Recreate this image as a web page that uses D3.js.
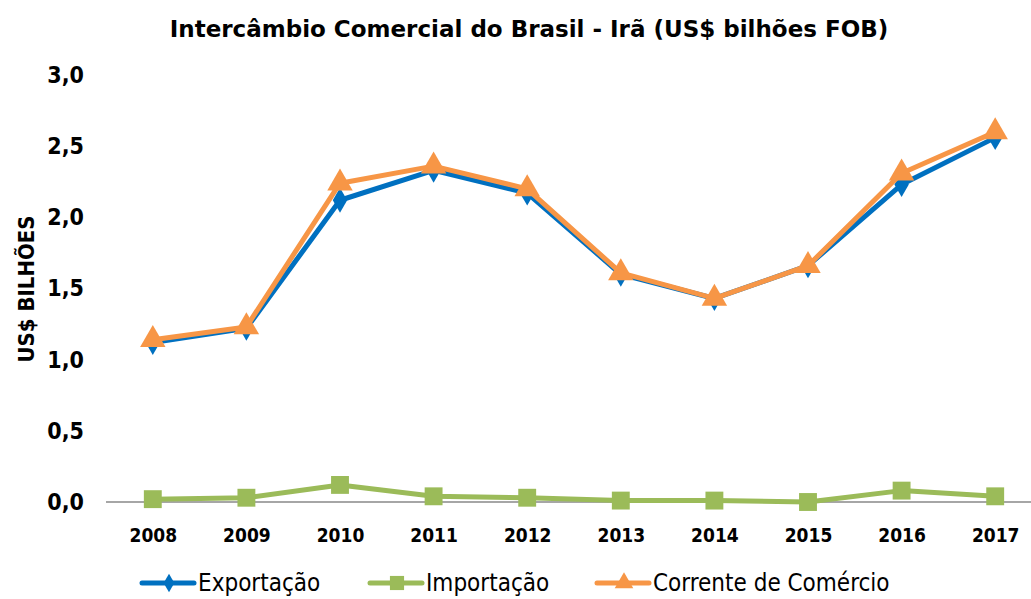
<!DOCTYPE html>
<html>
<head>
<meta charset="utf-8">
<script src="https://cdn.jsdelivr.net/npm/d3@7"></script>
<style>
  body { margin: 0; background: #fff; }
  text { font-family: "DejaVu Sans Condensed", "DejaVu Sans", sans-serif; }
</style>
</head>
<body>
<div id="chart"></div>
<script>
// data
const years = ['2008','2009','2010','2011','2012','2013','2014','2015','2016','2017'];
const exportacao = [1.12, 1.22, 2.12, 2.33, 2.17, 1.60, 1.43, 1.66, 2.23, 2.56];
const importacao = [0.02, 0.03, 0.12, 0.04, 0.03, 0.01, 0.01, 0.00, 0.08, 0.04];
const corrente = [1.14, 1.23, 2.24, 2.36, 2.20, 1.61, 1.43, 1.66, 2.31, 2.60];
const yTicks = [0, 0.5, 1, 1.5, 2, 2.5, 3];

const width = 1031;
const height = 599;

const svg = d3.select('#chart').append('svg')
  .attr('width', width)
  .attr('height', height);

// scales
const xScale = d3.scalePoint().domain(years).range([106, 1042]).padding(0.5);
const yScale = d3.scaleLinear().domain([0, 3]).range([502, 75]);

// title
svg.append('text')
  .attr('x', 529)
  .attr('y', 37)
  .attr('text-anchor', 'middle')
  .style('font-family', '"DejaVu Sans", sans-serif')
  .style('font-size', '23px')
  .style('font-weight', 'bold')
  .text('Intercâmbio Comercial do Brasil - Irã (US$ bilhões FOB)');

// y axis label
svg.append('text')
  .attr('transform', 'translate(34,289) rotate(-90)')
  .attr('text-anchor', 'middle')
  .style('font-size', '22px')
  .style('font-weight', 'bold')
  .text('US$ BILHÕES');

// y axis (labels only)
const yAxis = d3.axisLeft(yScale)
  .tickValues(yTicks)
  .tickFormat(d => d3.format('.1f')(d).replace('.', ','))
  .tickSize(0)
  .tickPadding(0);
const gy = svg.append('g')
  .attr('transform', 'translate(84,0)')
  .call(yAxis);
gy.select('.domain').remove();
gy.selectAll('text')
  .style('font-size', '23px')
  .style('font-weight', 'bold')
  .style('fill', '#000');

// x axis
const xAxis = d3.axisBottom(xScale).tickSize(0).tickPadding(27);
const gx = svg.append('g')
  .attr('transform', `translate(0,${yScale(0)})`)
  .call(xAxis);
gx.select('.domain').remove();
gx.append('line')
  .attr('x1', 106).attr('x2', 1031)
  .attr('stroke', '#888').attr('stroke-width', 1.3);
gx.selectAll('text')
  .style('font-size', '19px')
  .style('font-weight', 'bold')
  .style('fill', '#000');

const series = [
  {name: 'Exportação', values: exportacao, color: '#0070C0', symbol: d3.symbolDiamond, size: 180, legSize: 100},
  {name: 'Importação', values: importacao, color: '#9BBB59', symbol: d3.symbolSquare, size: 320, legSize: 200},
  {name: 'Corrente de Comércio', values: corrente, color: '#F79646', symbol: d3.symbolTriangle, size: 280, legSize: 150}
];

const line = d3.line()
  .x((d, i) => xScale(years[i]))
  .y(d => yScale(d));

series.forEach(s => {
  const g = svg.append('g');
  g.append('path')
    .datum(s.values)
    .attr('d', line)
    .attr('fill', 'none')
    .attr('stroke', s.color)
    .attr('stroke-width', 5)
    .attr('stroke-linejoin', 'round');
  g.selectAll('path.marker')
    .data(s.values)
    .enter()
    .append('path')
    .attr('class', 'marker')
    .attr('d', d3.symbol().type(s.symbol).size(s.size))
    .attr('transform', (d, i) => `translate(${xScale(years[i])},${yScale(d)})`)
    .attr('fill', s.color);
});

// legend
const legendX = [142, 370, 597];
series.forEach((s, i) => {
  const g = svg.append('g').attr('transform', `translate(${legendX[i]},583)`);
  g.append('line')
    .attr('x1', 0).attr('x2', 52)
    .attr('stroke', s.color).attr('stroke-width', 5)
    .attr('stroke-linecap', 'round');
  g.append('path')
    .attr('d', d3.symbol().type(s.symbol).size(s.legSize))
    .attr('transform', 'translate(27,0)')
    .attr('fill', s.color);
  g.append('text')
    .attr('x', 56)
    .attr('y', 8)
    .style('font-size', '24px')
    .style('fill', '#000')
    .text(s.name);
});
</script>
</body>
</html>
